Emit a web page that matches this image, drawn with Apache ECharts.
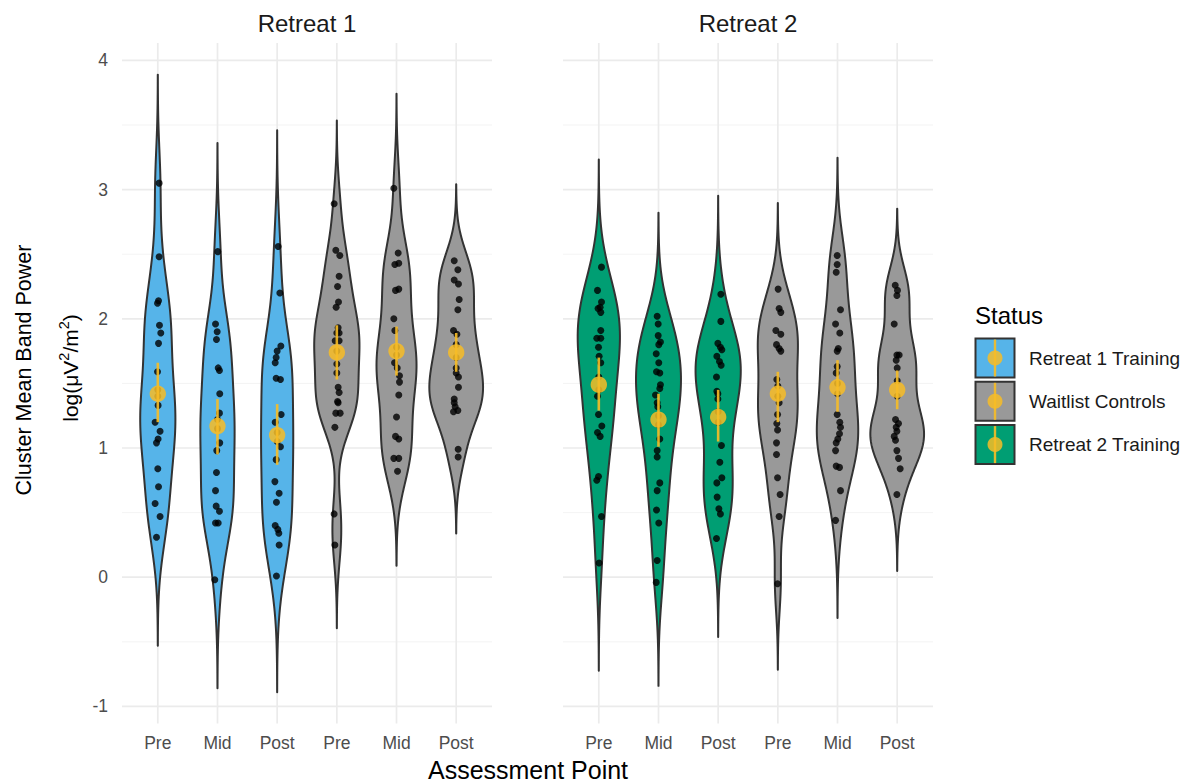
<!DOCTYPE html>
<html>
<head>
<meta charset="utf-8">
<script src="https://cdn.jsdelivr.net/npm/echarts@6/dist/echarts.min.js"></script>
<style>
  html, body { margin: 0; padding: 0; background: #ffffff; }
  #chart { width: 1193px; height: 783px; }
</style>
</head>
<body>
<div id="chart"></div>
<script>
// ---- labels and categories ----
const facetTitles = ['Retreat 1', 'Retreat 2'];
const assessmentLabels = ['Pre', 'Mid', 'Post', 'Pre', 'Mid', 'Post'];
const statusNames = ['Retreat 1 Training', 'Waitlist Controls', 'Retreat 2 Training'];
const statusColors = ['#56B4E9', '#999999', '#009E73'];
const yTicks = [-1, 0, 1, 2, 3, 4];
const yMinorTicks = [-0.5, 0.5, 1.5, 2.5, 3.5];

// status of each violin, left to right, in each facet
const r1Status = [0, 0, 0, 1, 1, 1];
const r2Status = [2, 2, 2, 1, 1, 1];

// ---- observations: log band power per participant ----
const r1TrainPre  = [3.05, 2.48, 2.14, 2.12, 1.95, 1.89, 1.81, 1.59, 1.45, 1.40, 1.33, 1.20, 1.13, 1.07, 1.04, 0.84, 0.70, 0.57, 0.47, 0.31];
const r1TrainMid  = [2.52, 1.96, 1.90, 1.84, 1.62, 1.60, 1.42, 1.27, 1.22, 1.15, 1.04, 0.98, 0.81, 0.67, 0.55, 0.51, 0.42, 0.42, -0.02];
const r1TrainPost = [2.56, 2.20, 1.79, 1.75, 1.70, 1.66, 1.54, 1.53, 1.26, 1.20, 1.12, 1.05, 1.01, 0.91, 0.74, 0.65, 0.58, 0.40, 0.37, 0.34, 0.25, 0.01];
const r1WaitPre   = [2.89, 2.53, 2.49, 2.33, 2.25, 2.13, 2.09, 1.93, 1.89, 1.89, 1.83, 1.83, 1.75, 1.65, 1.58, 1.47, 1.43, 1.36, 1.35, 1.27, 1.27, 1.16, 0.49, 0.25];
const r1WaitMid   = [3.01, 2.51, 2.43, 2.42, 2.23, 2.22, 2.00, 1.91, 1.78, 1.72, 1.66, 1.62, 1.56, 1.51, 1.41, 1.24, 1.09, 1.07, 0.92, 0.92, 0.82];
const r1WaitPost  = [2.45, 2.38, 2.30, 2.27, 2.15, 2.07, 1.91, 1.88, 1.80, 1.70, 1.62, 1.58, 1.55, 1.47, 1.38, 1.35, 1.32, 1.29, 1.28, 0.99, 0.93];

const r2TrainPre  = [2.40, 2.22, 2.13, 2.09, 2.08, 2.05, 1.91, 1.85, 1.85, 1.78, 1.71, 1.66, 1.55, 1.45, 1.40, 1.26, 1.17, 1.12, 1.09, 0.78, 0.75, 0.47, 0.11];
const r2TrainMid  = [2.02, 1.96, 1.87, 1.82, 1.80, 1.73, 1.66, 1.59, 1.58, 1.49, 1.46, 1.41, 1.35, 1.32, 1.25, 1.18, 1.07, 0.98, 0.93, 0.73, 0.67, 0.52, 0.42, 0.13, -0.04];
const r2TrainPost = [2.19, 1.98, 1.81, 1.78, 1.76, 1.71, 1.67, 1.64, 1.55, 1.44, 1.42, 1.38, 1.28, 1.20, 1.02, 0.89, 0.77, 0.73, 0.62, 0.53, 0.49, 0.30];
const r2WaitPre   = [2.23, 2.08, 2.05, 1.91, 1.88, 1.80, 1.77, 1.75, 1.53, 1.48, 1.40, 1.35, 1.26, 1.19, 1.14, 1.04, 0.95, 0.77, 0.64, 0.47, -0.05];
const r2WaitMid   = [2.49, 2.42, 2.36, 2.07, 1.96, 1.89, 1.77, 1.75, 1.63, 1.58, 1.50, 1.42, 1.26, 1.20, 1.16, 1.11, 1.07, 1.04, 0.98, 0.86, 0.85, 0.67, 0.44];
const r2WaitPost  = [2.26, 2.22, 2.18, 1.96, 1.72, 1.72, 1.68, 1.62, 1.52, 1.40, 1.22, 1.19, 1.16, 1.13, 1.09, 1.06, 0.98, 0.92, 0.84, 0.64];

// horizontal jitter of each dot (category units)
const r1TrainPreJit  = [0.022, 0.022, 0.012, -0.005, 0.028, 0.05, 0.012, -0.005, 0, 0, 0.005, -0.045, 0.038, 0.005, -0.022, 0, 0.012, -0.045, 0.038, -0.022];
const r1TrainMidJit  = [0.005, -0.033, -0.005, -0.017, 0.012, 0.033, 0.038, 0.033, 0, 0, 0.038, -0.012, -0.017, -0.033, -0.022, 0.033, -0.033, 0.012, -0.045];
const r1TrainPostJit = [0.017, 0.045, 0.062, 0, -0.017, -0.033, -0.017, 0.055, 0.067, -0.033, 0, 0, 0.055, -0.017, -0.038, 0.033, -0.012, -0.033, 0.012, 0.028, 0.033, -0.012];
const r1WaitPreJit   = [-0.045, -0.017, 0.05, 0.038, 0.012, 0.028, -0.012, 0.022, 0, 0.038, -0.028, 0.038, 0, 0, 0, 0.022, 0.038, 0.012, 0.022, -0.017, 0.055, -0.033, -0.045, -0.033];
const r1WaitMidJit   = [-0.045, 0.028, 0.038, -0.028, 0.038, -0.017, -0.045, -0.028, 0, 0, -0.033, 0.012, 0.05, 0.05, 0.038, 0, -0.017, 0.038, -0.045, 0.038, 0.017];
const r1WaitPostJit  = [-0.033, 0.028, -0.033, 0.038, 0.05, 0.028, -0.045, 0.012, 0, 0, 0, 0, 0.038, 0.038, -0.033, -0.033, -0.017, 0.028, -0.045, 0.033, 0.033];
const r2TrainPreJit  = [0.045, -0.022, 0.045, 0.022, -0.012, 0.033, 0.033, -0.033, 0.033, -0.005, 0.005, 0.033, 0, 0, -0.022, -0.005, 0.05, -0.022, 0.022, -0.005, -0.033, 0.045, 0.005];
const r2TrainMidJit  = [-0.022, -0.005, -0.005, 0.033, 0.005, -0.038, 0.005, -0.033, 0.022, 0.033, 0.022, -0.05, -0.022, -0.012, 0, 0, 0.022, -0.022, -0.022, 0.022, -0.022, -0.033, 0.005, -0.022, -0.038];
const r2TrainPostJit = [0.045, 0.045, -0.005, 0.038, 0.062, -0.022, 0.022, 0.05, -0.028, -0.022, -0.005, -0.005, 0, 0, 0.055, 0.028, 0.062, -0.022, -0.017, 0.012, 0.038, -0.028];
const r2WaitPreJit   = [0.005, 0.022, 0.05, -0.033, 0.05, -0.022, 0.022, 0.05, -0.017, 0, 0, 0.022, -0.005, -0.017, -0.005, -0.022, -0.022, -0.005, 0.038, 0.022, -0.005];
const r2WaitMidJit   = [-0.005, -0.005, -0.022, 0.05, -0.033, 0.038, 0.012, -0.005, -0.005, -0.022, 0, 0, -0.005, 0.038, 0.05, 0.033, 0.005, -0.022, -0.033, -0.022, 0.033, 0.05, -0.033];
const r2WaitPostJit  = [-0.033, 0.005, -0.005, -0.05, -0.005, 0.033, -0.017, 0, 0, 0, -0.028, 0.022, -0.017, -0.005, -0.05, -0.028, -0.005, 0.022, 0.05, -0.005];

// kernel bandwidth of each violin (log units)
const r1Bandwidth = [0.28, 0.28, 0.30, 0.215, 0.244, 0.197];
const r2Bandwidth = [0.278, 0.267, 0.254, 0.222, 0.252, 0.197];

// group means with interval bounds
const r1Mean = [1.42, 1.17, 1.10, 1.74, 1.75, 1.74];
const r1Low  = [1.20, 0.95, 0.87, 1.53, 1.56, 1.59];
const r1High = [1.66, 1.38, 1.34, 1.95, 1.94, 1.89];
const r2Mean = [1.49, 1.22, 1.24, 1.42, 1.47, 1.45];
const r2Low  = [1.29, 1.01, 1.05, 1.20, 1.28, 1.30];
const r2High = [1.70, 1.42, 1.45, 1.59, 1.68, 1.60];

// ---- layout / style ----
const FONT = '"Liberation Sans", Arial, Helvetica, sans-serif';
const yMin = -1.133, yMax = 4.134;
const xMin = 0.4, xMax = 6.6;
const gridTop = 43.1, gridHeight = 680.5, gridWidth = 370;
const gridLefts = [122, 563];
const meanColor = '#F7BC26';

const panels = [
  {
    groups: [r1TrainPre, r1TrainMid, r1TrainPost, r1WaitPre, r1WaitMid, r1WaitPost],
    jitters: [r1TrainPreJit, r1TrainMidJit, r1TrainPostJit, r1WaitPreJit, r1WaitMidJit, r1WaitPostJit],
    bw: r1Bandwidth, mean: r1Mean, low: r1Low, high: r1High, status: r1Status
  },
  {
    groups: [r2TrainPre, r2TrainMid, r2TrainPost, r2WaitPre, r2WaitMid, r2WaitPost],
    jitters: [r2TrainPreJit, r2TrainMidJit, r2TrainPostJit, r2WaitPreJit, r2WaitMidJit, r2WaitPostJit],
    bw: r2Bandwidth, mean: r2Mean, low: r2Low, high: r2High, status: r2Status
  }
];

// ---- Gaussian kernel density, tails extended by 3 bandwidths ----
function densityCurve(values, bw) {
  const n = values.length;
  const s = values.slice().sort((a, b) => a - b);
  const from = s[0] - 3 * bw, to = s[n - 1] + 3 * bw;
  const m = 256;
  const ys = [], dens = [];
  for (let j = 0; j < m; j++) {
    const y = from + (to - from) * j / (m - 1);
    let d = 0;
    for (let i = 0; i < n; i++) {
      const z = (y - s[i]) / bw;
      d += Math.exp(-0.5 * z * z);
    }
    ys.push(y);
    dens.push(d / (n * bw * Math.sqrt(2 * Math.PI)));
  }
  return { ys, dens };
}
panels.forEach(p => {
  p.curves = p.groups.map((g, k) => densityCurve(g, p.bw[k]));
  const maxD = Math.max(...p.curves.map(c => Math.max(...c.dens)));
  p.curves.forEach(c => { c.hw = c.dens.map(d => 0.45 * d / maxD); });
});

// ---- axes ----
const grids = gridLefts.map(left => ({ left, top: gridTop, width: gridWidth, height: gridHeight }));
const xAxes = gridLefts.map((_, i) => ({
  type: 'value', gridIndex: i, min: xMin, max: xMax,
  axisLine: { show: false }, axisTick: { show: false }, splitLine: { show: false },
  axisLabel: {
    customValues: [1, 2, 3, 4, 5, 6],
    formatter: v => assessmentLabels[Math.round(v) - 1],
    color: '#4D4D4D', fontSize: 17.5, fontFamily: FONT, margin: 10
  }
}));
const yAxes = gridLefts.map((_, i) => ({
  type: 'value', gridIndex: i, min: yMin, max: yMax,
  axisLine: { show: false }, axisTick: { show: false }, splitLine: { show: false },
  axisLabel: {
    show: i === 0,
    customValues: yTicks,
    formatter: v => String(v),
    color: '#4D4D4D', fontSize: 17.5, fontFamily: FONT, margin: 14
  }
}));

// ---- series ----
const series = [];
panels.forEach((p, gi) => {
  // panel gridlines: 0 = major horizontal, 1 = minor horizontal, 2 = vertical
  const lines = yTicks.map(v => [0, v])
    .concat(yMinorTicks.map(v => [1, v]))
    .concat([1, 2, 3, 4, 5, 6].map(v => [2, v]));
  series.push({
    type: 'custom', xAxisIndex: gi, yAxisIndex: gi, silent: true, z: 0,
    data: lines,
    renderItem: (params, api) => {
      const kind = lines[params.dataIndex][0];
      const v = lines[params.dataIndex][1];
      let a, b;
      if (kind === 2) { a = api.coord([v, yMin]); b = api.coord([v, yMax]); }
      else { a = api.coord([xMin, v]); b = api.coord([xMax, v]); }
      return {
        type: 'line',
        shape: { x1: a[0], y1: a[1], x2: b[0], y2: b[1] },
        style: { stroke: kind === 1 ? '#F2F2F2' : '#EBEBEB', lineWidth: kind === 1 ? 0.9 : 1.7 }
      };
    }
  });

  // violins
  series.push({
    type: 'custom', xAxisIndex: gi, yAxisIndex: gi, silent: true, z: 2, clip: false,
    data: p.groups.map((g, k) => [k + 1, p.mean[k]]),
    renderItem: (params, api) => {
      const k = params.dataIndex;
      const pos = k + 1;
      const c = p.curves[k];
      const left = [], right = [];
      for (let j = 0; j < c.ys.length; j++) {
        left.push(api.coord([pos - c.hw[j], c.ys[j]]));
        right.push(api.coord([pos + c.hw[j], c.ys[j]]));
      }
      return {
        type: 'polygon',
        shape: { points: left.concat(right.reverse()) },
        style: { fill: statusColors[p.status[k]], stroke: '#333333', lineWidth: 2, lineJoin: 'round' }
      };
    }
  });

  // individual observations
  const dots = [];
  p.groups.forEach((g, k) => g.forEach((v, i) => dots.push([k + 1 + p.jitters[k][i], v])));
  series.push({
    type: 'scatter', xAxisIndex: gi, yAxisIndex: gi, silent: true, z: 3,
    symbol: 'circle', symbolSize: 7,
    itemStyle: { color: '#000000' },
    data: dots
  });

  // mean with interval
  series.push({
    type: 'custom', xAxisIndex: gi, yAxisIndex: gi, silent: true, z: 4, clip: false,
    data: p.mean.map((m, k) => [k + 1, m, p.low[k], p.high[k]]),
    encode: { x: 0, y: [1, 2, 3] },
    renderItem: (params, api) => {
      const pos = api.value(0);
      const c = api.coord([pos, api.value(1)]);
      const lo = api.coord([pos, api.value(2)]);
      const hi = api.coord([pos, api.value(3)]);
      return {
        type: 'group',
        children: [
          { type: 'line', shape: { x1: lo[0], y1: lo[1], x2: hi[0], y2: hi[1] },
            style: { stroke: meanColor, lineWidth: 2.6, opacity: 0.9 } },
          { type: 'circle', shape: { cx: c[0], cy: c[1], r: 8.2 },
            style: { fill: meanColor, opacity: 0.85 } }
        ]
      };
    }
  });
});

// ---- titles, axis titles and legend ----
const graphic = [];
facetTitles.forEach((t, i) => graphic.push({
  type: 'text', x: gridLefts[i] + gridWidth / 2, y: 23,
  style: { text: t, fontSize: 24, fontFamily: FONT, fill: '#1A1A1A', align: 'center', verticalAlign: 'middle' }
}));
graphic.push({
  type: 'text', x: 528, y: 770,
  style: { text: 'Assessment Point', fontSize: 25, fontFamily: FONT, fill: '#000000', align: 'center', verticalAlign: 'middle' }
});
graphic.push({
  type: 'text', x: 24, y: 370, rotation: Math.PI / 2,
  style: { text: 'Cluster Mean Band Power', fontSize: 21.5, fontFamily: FONT, fill: '#000000', align: 'center', verticalAlign: 'middle' }
});
graphic.push({
  type: 'text', x: 70, y: 368, rotation: Math.PI / 2,
  style: {
    text: '{n|log(μV}{s|2}{n|/m}{s|2}{n|)}',
    align: 'center', verticalAlign: 'middle',
    rich: {
      n: { fontSize: 21, fontFamily: FONT, fill: '#000000', lineHeight: 28 },
      s: { fontSize: 14.5, fontFamily: FONT, fill: '#000000', verticalAlign: 'top', lineHeight: 28 }
    }
  }
});
graphic.push({
  type: 'text', x: 975, y: 315,
  style: { text: 'Status', fontSize: 24, fontFamily: FONT, fill: '#000000', align: 'left', verticalAlign: 'middle' }
});
statusNames.forEach((name, i) => {
  const top = 338.5 + i * 43.3;
  graphic.push({
    type: 'rect', shape: { x: 975.5, y: top, width: 39, height: 39 },
    style: { fill: statusColors[i], stroke: '#333333', lineWidth: 2 }
  });
  graphic.push({
    type: 'line', shape: { x1: 995, y1: top + 1, x2: 995, y2: top + 38 },
    style: { stroke: meanColor, lineWidth: 2.4, opacity: 0.9 }
  });
  graphic.push({
    type: 'circle', shape: { cx: 995, cy: top + 19.5, r: 7.5 },
    style: { fill: meanColor, opacity: 0.85 }
  });
  graphic.push({
    type: 'text', x: 1029, y: top + 19.5,
    style: { text: name, fontSize: 19, fontFamily: FONT, fill: '#1A1A1A', align: 'left', verticalAlign: 'middle' }
  });
});

const chart = echarts.init(document.getElementById('chart'), null, { renderer: 'svg' });
chart.setOption({
  animation: false,
  backgroundColor: '#ffffff',
  grid: grids,
  xAxis: xAxes,
  yAxis: yAxes,
  series,
  graphic
});
</script>
</body>
</html>
